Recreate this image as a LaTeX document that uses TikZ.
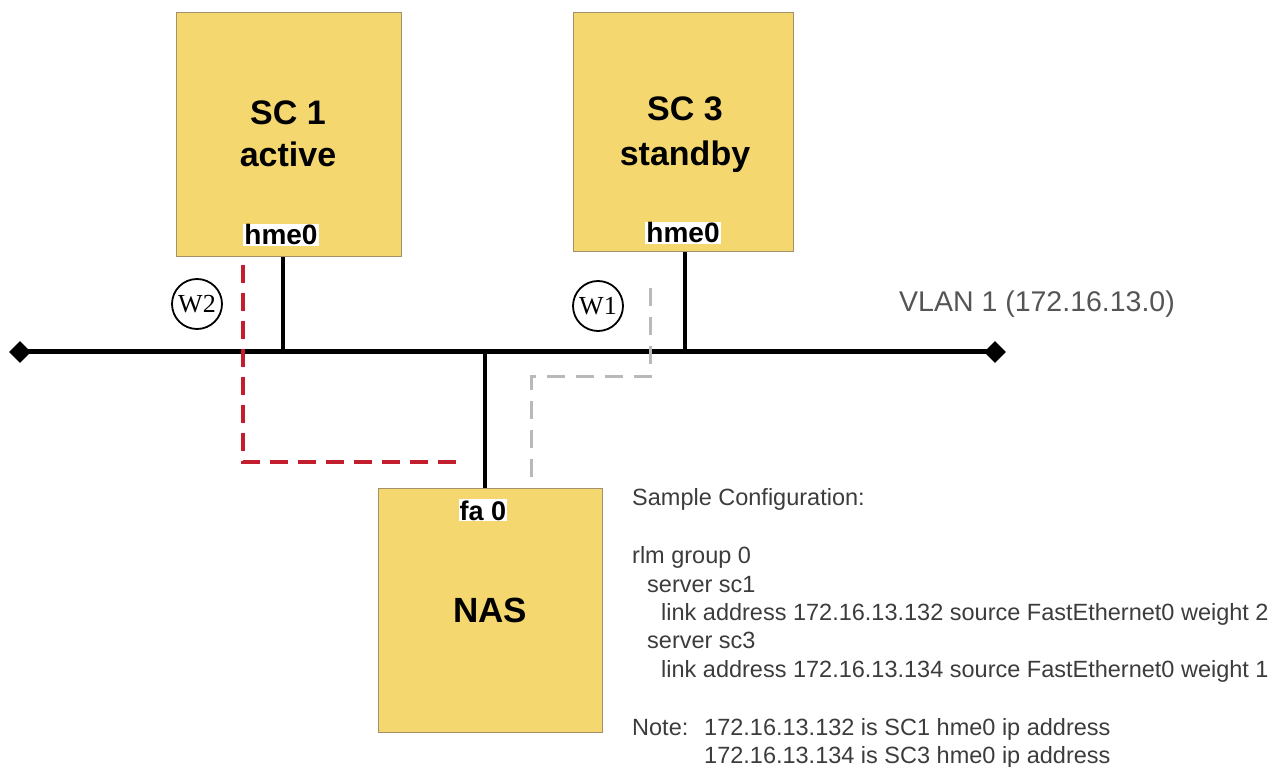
\documentclass[tikz,border=0pt]{standalone}
\usepackage{fontspec}
\setmainfont{Liberation Sans}
\newfontfamily\serifW{Liberation Serif}
\usetikzlibrary{shapes.geometric}
\definecolor{boxfill}{RGB}{244,215,110}
\definecolor{boxline}{RGB}{165,145,105}
\definecolor{reddash}{RGB}{195,30,45}
\definecolor{graydash}{RGB}{185,185,185}
\definecolor{txtgray}{RGB}{60,60,60}
\definecolor{vlangray}{RGB}{85,85,85}
\begin{document}
\begin{tikzpicture}[x=1pt,y=-1pt,
  devbox/.style={draw=boxline, line width=1.2pt, fill=boxfill, inner sep=0pt, anchor=north west},
  devname/.style={anchor=base, font=\fontsize{34}{34}\selectfont\bfseries},
  port/.style={anchor=base, fill=white, inner sep=1pt, font=\fontsize{28}{28}\selectfont\bfseries},
  drop/.style={line width=3.5pt, black},
  bus/.style={line width=5pt, black},
  endpt/.style={diamond, fill=black, minimum size=22pt, inner sep=0pt},
  wcircle/.style={circle, draw, line width=1.8pt, minimum size=50pt, inner sep=0pt, font=\serifW\fontsize{26}{26}\selectfont},
  redpath/.style={draw=reddash, line width=4pt, dash pattern=on 18pt off 10pt},
  graypath/.style={draw=graydash, line width=3pt, dash pattern=on 18pt off 11pt},
  cfg/.style={anchor=base west, text=txtgray, inner sep=0pt, font=\fontsize{23.5}{23.5}\selectfont}
]
\useasboundingbox (0,0) rectangle (1278,767);

% device boxes
\node[devbox, minimum width=225pt, minimum height=244pt] (sc1) at (176,12) {};
\node[devbox, minimum width=220pt, minimum height=239pt] (sc3) at (573,12) {};
\node[devbox, minimum width=224pt, minimum height=244pt] (nas) at (378,488) {};

\node[devname] (sc1a) at (288,125) {SC 1};
\node[devname] (sc1b) at (288,167) {active};
\node[devname] (sc3a) at (685,121) {SC 3};
\node[devname] (sc3b) at (685,166) {standby};
\node[devname, font=\fontsize{35}{35}\selectfont\bfseries] (nast) at (490,622) {NAS};

\node[port] (sc1p) at (281,245) {hme0};
\node[port] (sc3p) at (683,243) {hme0};
\node[port, font=\fontsize{27}{27}\selectfont\bfseries] (nasp) at (483,520) {fa 0};

% bus
\node[endpt] (dL) at (20,352) {};
\node[endpt] (dR) at (995,352) {};
\coordinate (j1) at (283,352);
\coordinate (j3) at (685,352);
\coordinate (jn) at (485,352);
\draw[bus] (dL.center) -- (dR.center);
\draw[drop] (sc1.south -| j1) -- (j1);
\draw[drop] (sc3.south -| j3) -- (j3);
\draw[drop] (jn) -- (nas.north -| jn);

% weights
\node[wcircle] (w2) at (197,304) {W2};
\node[wcircle] (w1) at (598,306) {W1};

% dashed paths
\coordinate (r0) at (243,265);
\coordinate (r1) at (460,462);
\draw[redpath] (r0) |- (r1);
\coordinate (g0) at (650,288);
\coordinate (g1) at (531,377);
\coordinate (g2) at (531,480);
\draw[graypath] (g0) |- (g1) -- (g2);

% vlan label
\node[anchor=base west, text=vlangray, inner sep=0pt, font=\fontsize{28.5}{28.5}\selectfont] (vlan) at (899,312) {VLAN 1 (172.16.13.0)};

% config text
\node[cfg] (c1) at (632,505) {Sample Configuration:};
\node[cfg] (c2) at (632,563) {rlm group 0};
\node[cfg] (c3) at (647,592) {server sc1};
\node[cfg] (c4) at (661,620) {link address 172.16.13.132 source FastEthernet0 weight 2};
\node[cfg] (c5) at (647,648) {server sc3};
\node[cfg] (c6) at (661,677) {link address 172.16.13.134 source FastEthernet0 weight 1};
\node[cfg] (c7) at (632,735) {Note:};
\node[cfg] (c8) at (704,735) {172.16.13.132 is SC1 hme0 ip address};
\node[cfg] (c9) at (704,763) {172.16.13.134 is SC3 hme0 ip address};
\end{tikzpicture}
\end{document}
